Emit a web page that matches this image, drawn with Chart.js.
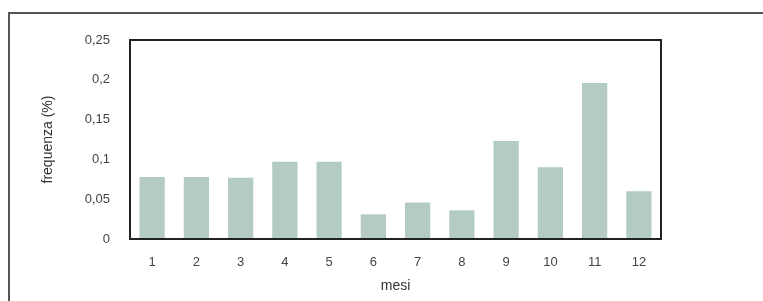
<!DOCTYPE html>
<html>
<head>
<meta charset="utf-8">
<script src="https://cdn.jsdelivr.net/npm/chart.js@4/dist/chart.umd.min.js"></script>
<style>
  body { margin: 0; background: #fff; }
  #wrap { position: relative; width: 763px; height: 301px; }
  #frame { position: absolute; left: 8px; top: 12px; width: 770px; height: 300px;
           border-top: 2px solid #555; border-left: 2px solid #555; }
  canvas { position: absolute; left: 0; top: 0; }
</style>
</head>
<body>
<div id="wrap">
  <div id="frame"></div>
  <canvas id="freq-chart" width="763" height="301"></canvas>
</div>
<script>
var mesi = ['1', '2', '3', '4', '5', '6', '7', '8', '9', '10', '11', '12'];
var frequenza = [0.078, 0.078, 0.077, 0.097, 0.097, 0.031, 0.046, 0.036, 0.123, 0.090, 0.196, 0.060];

// cornice nera attorno all'area del grafico
var plotBox = {
  id: 'plotBox',
  afterDatasetsDraw: function(chart) {
    var a = chart.chartArea, c = chart.ctx;
    c.save();
    c.strokeStyle = '#222';
    c.lineWidth = 2;
    c.strokeRect(a.left, a.top, a.right - a.left, a.bottom - a.top);
    c.restore();
  }
};

var ctx = document.getElementById('freq-chart').getContext('2d');
var mychart = new Chart(ctx, {
  type: 'bar',
  data: {
    labels: mesi,
    datasets: [{
      label: 'frequenza',
      backgroundColor: '#b3cbc4',
      data: frequenza,
      categoryPercentage: 1,
      barPercentage: 0.57
    }]
  },
  options: {
    responsive: false,
    animation: false,
    layout: { padding: { left: 0, top: 40, right: 102, bottom: 0 } },
    plugins: { legend: { display: false }, tooltip: { enabled: false } },
    scales: {
      x: {
        grid: { display: false },
        border: { display: false },
        ticks: { color: '#444', padding: 8, font: { family: 'Liberation Sans', size: 13 } },
        title: { display: true, text: 'mesi', color: '#333', padding: { top: 0, bottom: 6 },
                 font: { family: 'Liberation Sans', size: 14 } },
        afterFit: function(s) { s.height = 62; }
      },
      y: {
        min: 0,
        max: 0.25,
        grid: { display: false },
        border: { display: false },
        ticks: {
          stepSize: 0.05,
          color: '#444',
          padding: 12,
          font: { family: 'Liberation Sans', size: 13 },
          callback: function(v) { return Number(v.toFixed(2)).toString().replace('.', ','); }
        },
        title: { display: true, text: 'frequenza (%)', color: '#333', padding: { top: 40, bottom: 0 },
                 font: { family: 'Liberation Sans', size: 14 } },
        afterFit: function(s) { s.width = 130; }
      }
    }
  },
  plugins: [plotBox]
});
</script>
</body>
</html>
